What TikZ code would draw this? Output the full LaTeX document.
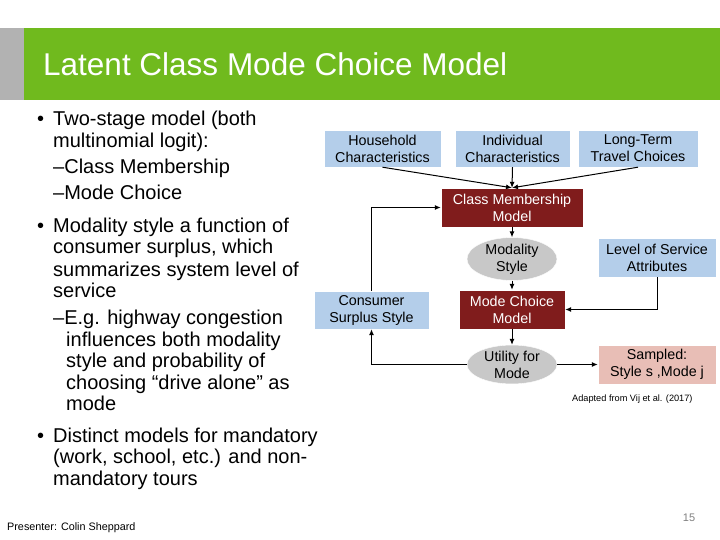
\documentclass[tikz,border=0pt]{standalone}
\usepackage{fontspec}
\setmainfont{Liberation Sans}
\usetikzlibrary{shapes.geometric,arrows.meta}
\definecolor{hdr}{RGB}{112,186,30}
\definecolor{bluebx}{RGB}{180,206,234}
\definecolor{redbx}{RGB}{128,28,28}
\definecolor{pinkbx}{RGB}{232,190,182}
\definecolor{grayel}{RGB}{200,200,200}
\tikzset{
  bx/.style={draw=white,inner sep=0pt,font=\fontsize{14.3}{17}\selectfont,align=center},
  bluenode/.style={bx,fill=bluebx},
  rednode/.style={bx,fill=redbx,text=white},
  ell/.style={ellipse,draw=white,fill=grayel,inner sep=0pt,font=\fontsize{14.3}{17}\selectfont,align=center,minimum width=90pt,minimum height=39pt},
  arr/.style={-{Latex[length=6pt,width=5pt]},line width=1pt},
  bt/.style={anchor=base west,inner sep=0pt,font=\fontsize{20}{22}\selectfont}
}
\begin{document}
\begin{tikzpicture}[x=1pt,y=-1pt]
\useasboundingbox (0,0) rectangle (720,540);
\fill[white] (0,0) rectangle (720,540);
\fill[gray!60] (0,28) rectangle (24,100);
\fill[hdr] (24,28) rectangle (720,100);
\node[anchor=west,text=white,font=\fontsize{31.5}{34}\selectfont,inner sep=0pt] (title) at (43,64) {Latent Class Mode Choice Model};
% bullets
\foreach \yy/\t [count=\i] in {126/{•\hspace{9pt}Two-stage model (both},148/{\hspace{16pt}multinomial logit):},174/{\hspace{16pt}–Class Membership},200/{\hspace{16pt}–Mode Choice},233/{•\hspace{9pt}Modality style a function of},254/{\hspace{16pt}consumer surplus, which},276/{\hspace{16pt}summarizes system level of},297/{\hspace{16pt}service},324/{\hspace{16pt}–E.g. highway congestion},346/{\hspace{29pt}influences both modality},367/{\hspace{29pt}style and probability of},389/{\hspace{29pt}choosing “drive alone” as},410/{\hspace{29pt}mode},442/{•\hspace{9pt}Distinct models for mandatory},463/{\hspace{16pt}(work, school, etc.) and non-},485/{\hspace{16pt}mandatory tours}}
  \node[bt] (b\i) at (37,\yy) {\t};
% diagram
\node[bluenode,minimum width=117pt,minimum height=37pt] (hh) at (382.5,148.5) {Household\\Characteristics};
\node[bluenode,minimum width=115pt,minimum height=37pt] (ind) at (512.5,148.5) {Individual\\Characteristics};
\node[bluenode,minimum width=120pt,minimum height=37pt] (lt) at (638,148.5) {Long-Term\\Travel Choices};
\node[rednode,minimum width=142pt,minimum height=39pt] (cm) at (512,207.5) {Class Membership\\Model};
\node[ell] (ms) at (512,259) {Modality\\Style};
\node[bluenode,minimum width=118pt,minimum height=39pt] (los) at (657,257.5) {Level of Service\\Attributes};
\node[bluenode,minimum width=115pt,minimum height=38pt] (cs) at (371.5,310) {Consumer\\Surplus Style};
\node[rednode,minimum width=106pt,minimum height=39pt] (mc) at (512,309.5) {Mode Choice\\Model};
\node[ell,minimum height=38pt] (ut) at (512,364.5) {Utility for\\Mode};
\node[bx,fill=pinkbx,minimum width=118pt,minimum height=39pt] (sa) at (657,364.5) {Sampled:\\Style s ,Mode j};
\draw[arr] (hh.south) -- (cm.north);
\draw[arr] (ind.south) -- (cm.north);
\draw[arr] (lt.south) -- (cm.north);
\draw[arr] (cm) -- (ms);
\draw[arr] (ms) -- (mc);
\draw[arr] (mc) -- (ut);
\draw[arr] (ut) -- (sa);
\draw[arr] (los.south) |- (mc.east);
\draw[arr] (ut.west) -| (cs.south);
\draw[arr] (cs.north) |- (cm.west);
\node[anchor=west,inner sep=0pt,font=\fontsize{9.2}{10}\selectfont] (src) at (572,399) {Adapted from Vij et al. (2017)};
\node[anchor=west,inner sep=0pt,font=\fontsize{10.8}{12}\selectfont] (pres) at (7,528) {Presenter: Colin Sheppard};
\node[anchor=center,inner sep=0pt,text=gray,font=\fontsize{11}{12}\selectfont] (pg) at (689,518) {15};
\end{tikzpicture}
\end{document}
